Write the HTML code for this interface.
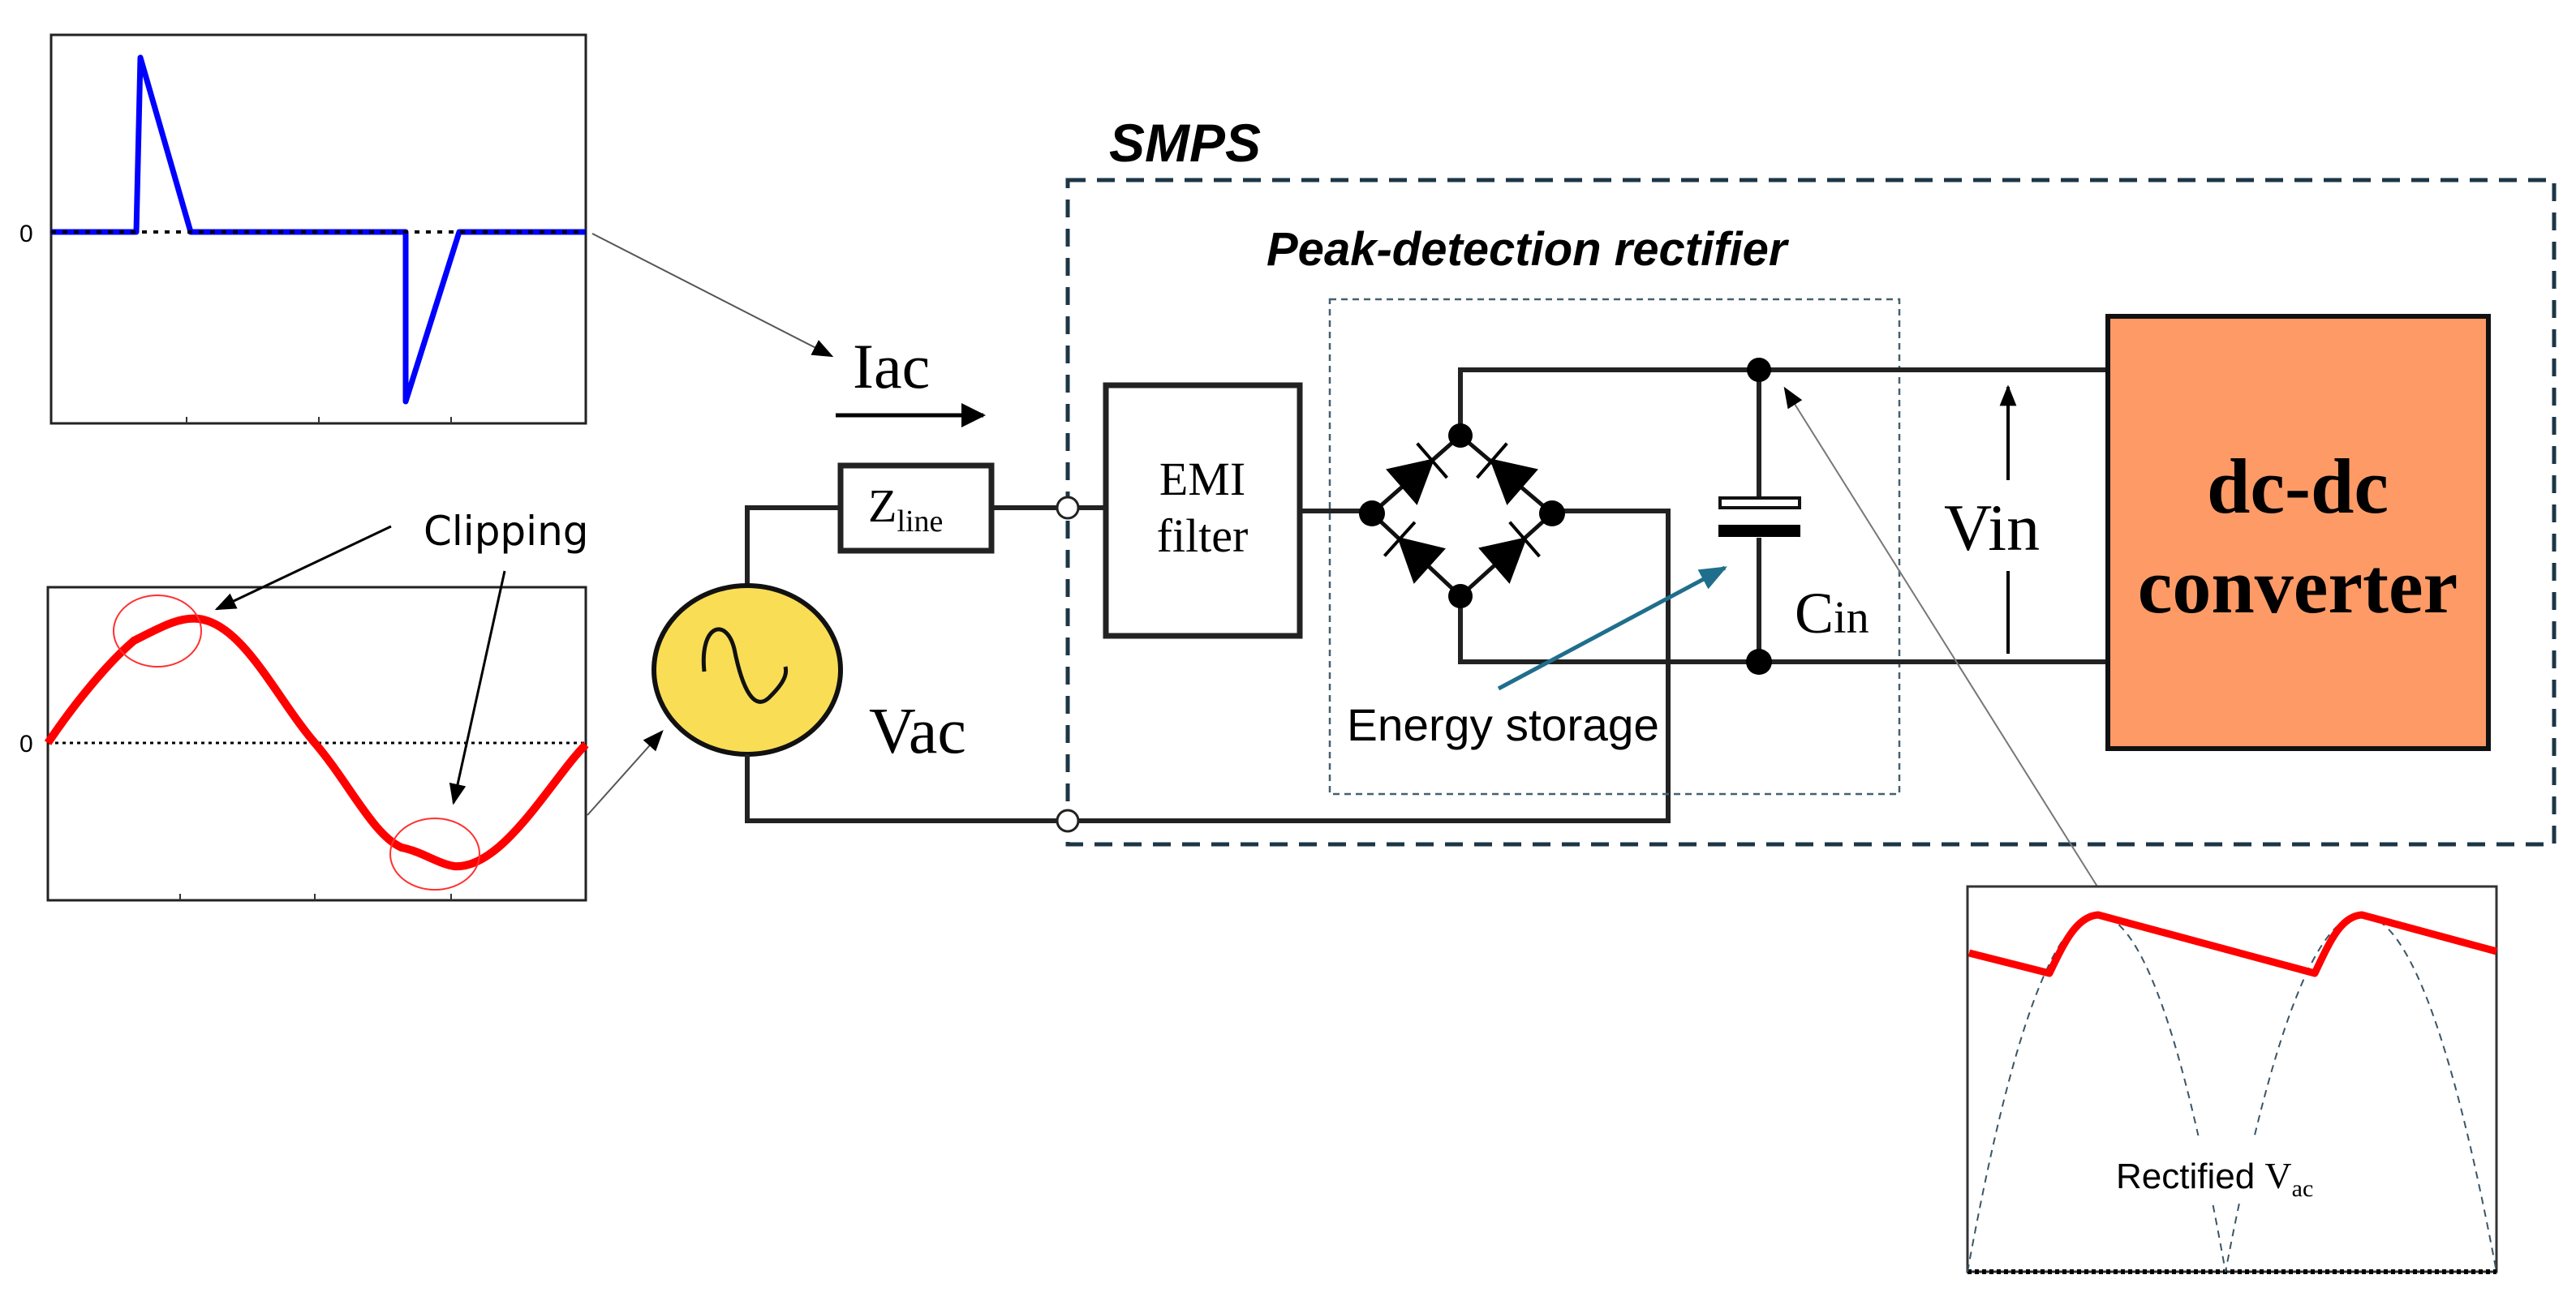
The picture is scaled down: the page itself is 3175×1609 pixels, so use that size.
<!DOCTYPE html>
<html><head><meta charset="utf-8"><style>html,body{margin:0;padding:0;background:#fff}svg{display:block}</style></head>
<body>
<svg width="3175" height="1609" viewBox="0 0 3175 1609" xmlns="http://www.w3.org/2000/svg">
<defs>
<marker id="ah" viewBox="0 0 10 10" refX="9" refY="5" markerWidth="8" markerHeight="8" orient="auto" markerUnits="userSpaceOnUse"><path d="M0,0 L10,5 L0,10 z" fill="#000"/></marker>
<marker id="ahb" viewBox="0 0 10 10" refX="9" refY="5" markerWidth="30" markerHeight="30" orient="auto" markerUnits="userSpaceOnUse"><path d="M0,0 L10,5 L0,10 z" fill="#000"/></marker>
<marker id="ahm" viewBox="0 0 10 10" refX="9" refY="5" markerWidth="26" markerHeight="26" orient="auto" markerUnits="userSpaceOnUse"><path d="M0,1 L10,5 L0,9 z" fill="#000"/></marker>
<marker id="ahc" viewBox="0 0 10 10" refX="9" refY="5" markerWidth="34" markerHeight="34" orient="auto" markerUnits="userSpaceOnUse"><path d="M0,1 L10,5 L0,9 z" fill="#1f6e8c"/></marker>
</defs>

<!-- Top current plot -->
<rect x="63" y="43" width="659" height="479" fill="none" stroke="#222" stroke-width="3"/>
<g stroke="#333" stroke-width="2"><line x1="230" y1="522" x2="230" y2="514"/><line x1="393" y1="522" x2="393" y2="514"/><line x1="556" y1="522" x2="556" y2="514"/></g>
<polyline points="63,286 168,286 173,71 235,286 500,286 500,495 566,286 722,286" fill="none" stroke="#0000ff" stroke-width="7" stroke-linejoin="round"/>
<line x1="63" y1="286" x2="722" y2="286" stroke="#000" stroke-width="4" stroke-dasharray="6,8"/>
<text x="24" y="298" font-family="Liberation Sans, sans-serif" font-size="30">0</text>

<!-- Bottom voltage plot -->
<rect x="59" y="724" width="663" height="386" fill="none" stroke="#222" stroke-width="3"/>
<g stroke="#333" stroke-width="2"><line x1="222" y1="1110" x2="222" y2="1102"/><line x1="388" y1="1110" x2="388" y2="1102"/><line x1="556" y1="1110" x2="556" y2="1102"/></g>
<line x1="59" y1="916" x2="722" y2="916" stroke="#000" stroke-width="3" stroke-dasharray="4,5"/>
<path d="M59,916 C90,870 130,820 165,790 C195,775 220,760 245,763 C300,770 340,860 388,916 C430,965 460,1030 495,1045 C520,1050 540,1065 560,1068 C620,1072 680,960 722,918" fill="none" stroke="#ff0000" stroke-width="10"/>
<ellipse cx="194" cy="778" rx="54" ry="44" fill="none" stroke="#ff3030" stroke-width="2"/>
<ellipse cx="536" cy="1053" rx="55" ry="44" fill="none" stroke="#ff3030" stroke-width="2"/>
<text x="24" y="927" font-family="Liberation Sans, sans-serif" font-size="30">0</text>
<text x="522" y="672" font-family="DejaVu Sans, Liberation Sans, sans-serif" font-size="50">Clipping</text>
<line x1="482" y1="649" x2="267" y2="751" stroke="#000" stroke-width="3" marker-end="url(#ahm)"/>
<line x1="622" y1="704" x2="559" y2="990" stroke="#000" stroke-width="3" marker-end="url(#ahm)"/>

<!-- grey connector arrows -->
<line x1="730" y1="288" x2="1025" y2="439" stroke="#555" stroke-width="2" marker-end="url(#ahm)"/>
<line x1="724" y1="1005" x2="816" y2="902" stroke="#555" stroke-width="2" marker-end="url(#ahm)"/>

<!-- Iac -->
<text x="1051" y="478" font-family="Liberation Serif, serif" font-size="78">Iac</text>
<line x1="1030" y1="512" x2="1212" y2="512" stroke="#000" stroke-width="5" marker-end="url(#ahb)"/>

<!-- Source & line -->
<polyline points="921,722 921,626 1036,626" fill="none" stroke="#222" stroke-width="6"/>
<rect x="1036" y="574" width="186" height="105" fill="#fff" stroke="#222" stroke-width="7"/>
<text x="1070" y="643" font-family="Liberation Serif, serif" font-size="58">Z<tspan font-size="38" dy="12">line</tspan></text>
<line x1="1222" y1="626" x2="1360" y2="626" stroke="#222" stroke-width="6"/>
<ellipse cx="921" cy="826" rx="115" ry="104" fill="#f9dd55" stroke="#111" stroke-width="6"/>
<path d="M868,828 C862,770 895,760 905,800 C915,850 930,880 950,858 C968,840 970,830 968,822" fill="none" stroke="#111" stroke-width="5"/>
<text x="1071" y="928" font-family="Liberation Serif, serif" font-size="80">Vac</text>
<polyline points="921,930 921,1012 2056,1012 2056,630 1915,630" fill="none" stroke="#222" stroke-width="6"/>

<!-- SMPS dashed box -->
<rect x="1316" y="222" width="1832" height="819" fill="none" stroke="#1c3646" stroke-width="5" stroke-dasharray="22,14"/>
<text x="1367" y="199" font-family="Liberation Sans, sans-serif" font-weight="bold" font-style="italic" font-size="66">SMPS</text>
<text x="1561" y="327" font-family="Liberation Sans, sans-serif" font-weight="bold" font-style="italic" font-size="58">Peak-detection rectifier</text>
<rect x="1639" y="369" width="702" height="610" fill="none" stroke="#46606e" stroke-width="2.5" stroke-dasharray="8,6"/>

<!-- terminals -->
<circle cx="1316" cy="626" r="13" fill="#fff" stroke="#222" stroke-width="3"/>
<circle cx="1316" cy="1012" r="13" fill="#fff" stroke="#222" stroke-width="3"/>

<!-- EMI -->
<rect x="1363" y="475" width="239" height="309" fill="#fff" stroke="#222" stroke-width="7"/>
<text x="1482" y="610" text-anchor="middle" font-family="Liberation Serif, serif" font-size="58">EMI</text>
<text x="1482" y="680" text-anchor="middle" font-family="Liberation Serif, serif" font-size="58">filter</text>
<line x1="1602" y1="630" x2="1691" y2="630" stroke="#222" stroke-width="6"/>

<!-- Bridge -->
<polyline points="1800,537 1800,456 2598,456" fill="none" stroke="#222" stroke-width="6"/>
<polyline points="1800,735 1800,816 2598,816" fill="none" stroke="#222" stroke-width="6"/>
<polygon points="1691,633 1800,537 1913,633 1800,735" fill="none" stroke="#111" stroke-width="5"/>
<g fill="#000" stroke="#000" stroke-width="4">
<g transform="translate(1750,581) rotate(-41)"><polygon points="-28,-26 20,0 -28,26"/><line x1="20" y1="-28" x2="20" y2="28"/></g>
<g transform="translate(1854,581) rotate(221)"><polygon points="-28,-26 20,0 -28,26"/><line x1="20" y1="-28" x2="20" y2="28"/></g>
<g transform="translate(1740,678) rotate(222)"><polygon points="-28,-26 20,0 -28,26"/><line x1="20" y1="-28" x2="20" y2="28"/></g>
<g transform="translate(1864,678) rotate(-41)"><polygon points="-28,-26 20,0 -28,26"/><line x1="20" y1="-28" x2="20" y2="28"/></g>
</g>
<g fill="#000"><circle cx="1800" cy="537" r="15"/><circle cx="1691" cy="633" r="16"/><circle cx="1913" cy="633" r="16"/><circle cx="1800" cy="735" r="15"/></g>

<!-- Capacitor -->
<line x1="2168" y1="456" x2="2168" y2="613" stroke="#222" stroke-width="6"/>
<line x1="2168" y1="663" x2="2168" y2="816" stroke="#222" stroke-width="6"/>
<rect x="2120" y="614" width="98" height="12" fill="#fff" stroke="#111" stroke-width="4"/>
<rect x="2118" y="647" width="101" height="15" fill="#000"/>
<circle cx="2168" cy="456" r="15" fill="#000"/>
<circle cx="2168" cy="816" r="16" fill="#000"/>
<text x="2212" y="780" font-family="Liberation Serif, serif" font-size="72">C<tspan font-size="56">in</tspan></text>

<!-- Energy storage -->
<line x1="1847" y1="849" x2="2126" y2="700" stroke="#1f6e8c" stroke-width="5" marker-end="url(#ahc)"/>
<text x="1660" y="913" font-family="Liberation Sans, sans-serif" font-size="56" textLength="385" lengthAdjust="spacingAndGlyphs">Energy storage</text>

<!-- Vin -->
<line x1="2475" y1="806" x2="2475" y2="704" stroke="#000" stroke-width="4"/>
<line x1="2475" y1="592" x2="2475" y2="477" stroke="#000" stroke-width="4" marker-end="url(#ahm)"/>
<text x="2396" y="678" font-family="Liberation Serif, serif" font-size="82">Vin</text>

<!-- dc-dc -->
<rect x="2598" y="390" width="469" height="533" fill="#fd9a66" stroke="#111" stroke-width="6"/>
<text x="2832" y="632" text-anchor="middle" font-family="Liberation Serif, serif" font-weight="bold" font-size="96">dc-dc</text>
<text x="2832" y="755" text-anchor="middle" font-family="Liberation Serif, serif" font-weight="bold" font-size="96">converter</text>

<!-- Rectified plot -->
<line x1="2585" y1="1093" x2="2200" y2="479" stroke="#777" stroke-width="2" marker-end="url(#ahm)"/>
<rect x="2425" y="1093" width="652" height="475" fill="#fff" stroke="#333" stroke-width="3"/>
<line x1="2425" y1="1568" x2="3077" y2="1568" stroke="#000" stroke-width="6" stroke-dasharray="5,4"/>
<path d="M2425,1568 Q2586,688 2743,1568 Q2911,688 3077,1568" fill="none" stroke="#3a5566" stroke-width="2" stroke-dasharray="9,7"/>
<path d="M2427,1175 L2526,1200 C2545,1160 2560,1130 2586,1128 L2853,1200 C2872,1160 2885,1130 2911,1128 L3077,1173" fill="none" stroke="#ff0000" stroke-width="9" stroke-linejoin="round"/>
<rect x="2580" y="1400" width="300" height="80" fill="#fff"/>
<text x="2608" y="1465" font-family="Liberation Sans, sans-serif" font-size="44">Rectified <tspan font-family="Liberation Serif, serif" font-size="46">V</tspan><tspan font-family="Liberation Serif, serif" font-size="30" dy="10">ac</tspan></text>
</svg>
</body></html>
